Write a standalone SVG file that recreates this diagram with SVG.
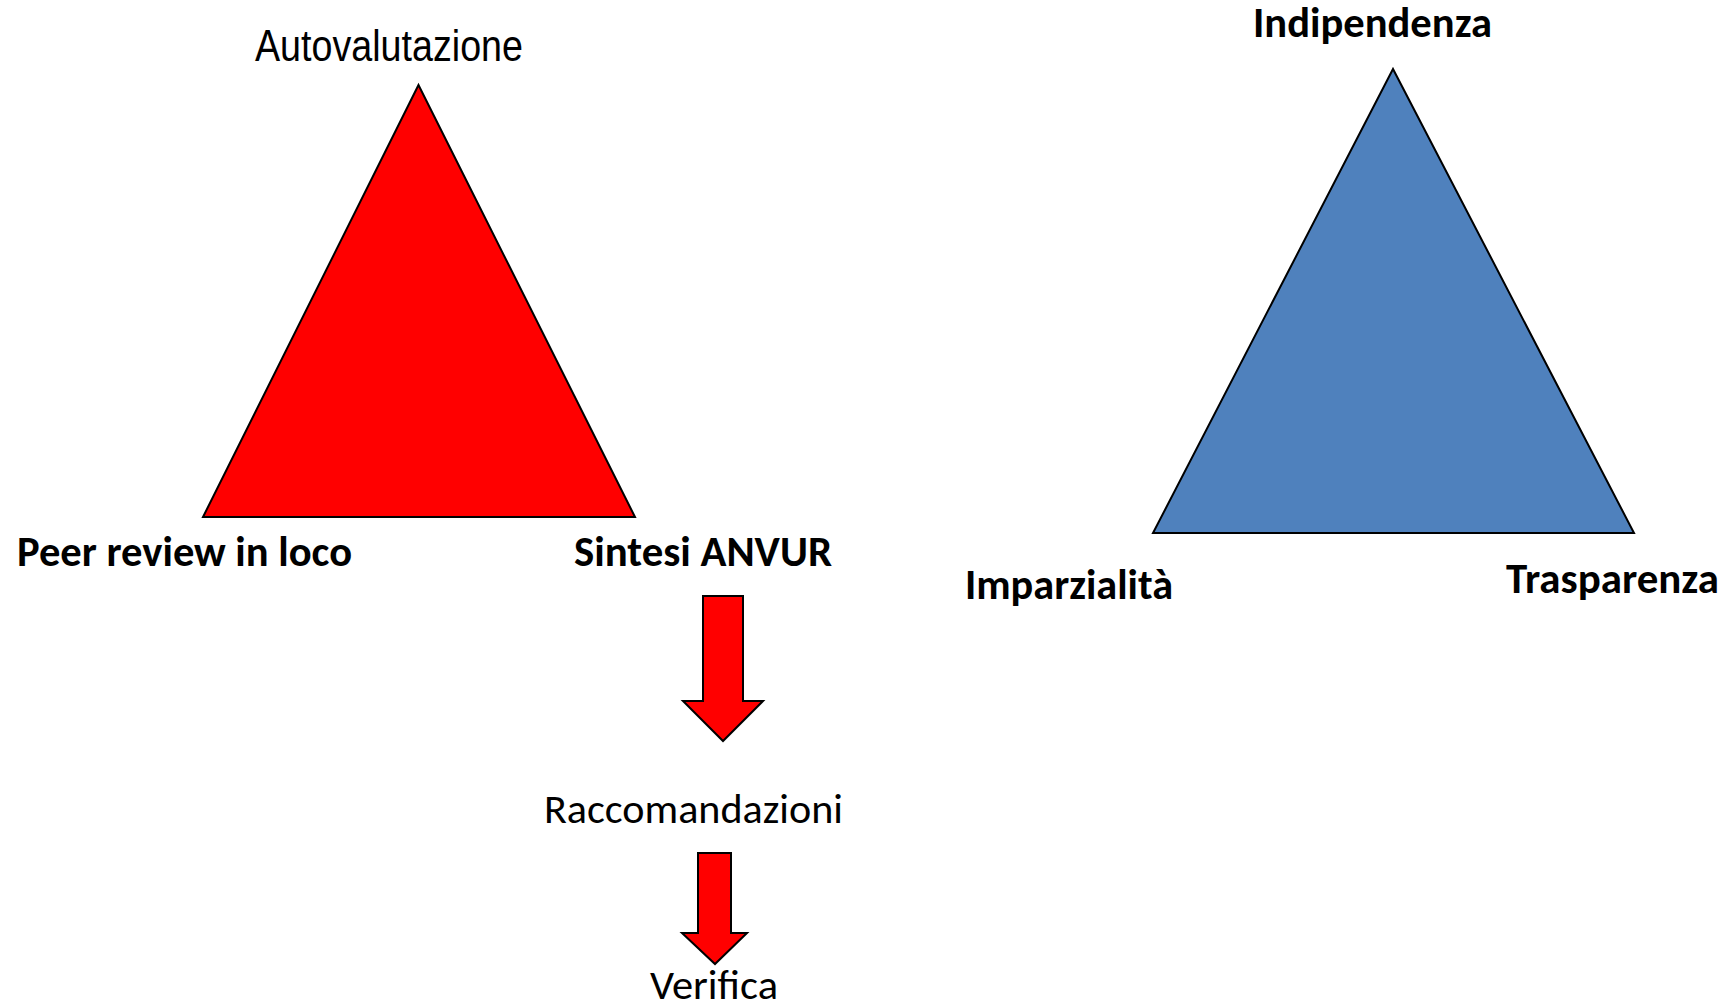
<svg xmlns="http://www.w3.org/2000/svg" width="1736" height="1005" viewBox="0 0 1736 1005">
<style>
.bg{fill:#ffffff}
.shape{stroke:#000000;stroke-width:2;stroke-linejoin:miter}
.red{fill:#ff0000}
.blue{fill:#4f81bd}
.lbl{font-family:"Carlito","Liberation Sans",Arial,sans-serif;font-size:42px;fill:#000000}
.b{font-weight:bold}
.narrow{font-family:"Liberation Sans Narrow","Arial Narrow","Liberation Sans",sans-serif;font-size:44px;fill:#000000}
</style>
<rect class="bg" x="0" y="0" width="1736" height="1005"/>
<g id="red-triangle">
<polygon class="shape red" points="418.5,85 203,517 635,517"/>
</g>
<g id="blue-triangle">
<polygon class="shape blue" points="1393,69 1153,533 1634,533"/>
</g>
<g id="label-autovalutazione">
<text class="narrow" x="255" y="61" textLength="268" lengthAdjust="spacingAndGlyphs">Autovalutazione</text>
</g>
<g id="label-peer">
<text class="lbl b" x="17" y="566" textLength="335" lengthAdjust="spacingAndGlyphs">Peer review in loco</text>
</g>
<g id="label-sintesi">
<text class="lbl b" x="574" y="566" textLength="258" lengthAdjust="spacingAndGlyphs">Sintesi ANVUR</text>
</g>
<g id="label-raccomandazioni">
<text class="lbl" x="544" y="823" textLength="299" lengthAdjust="spacingAndGlyphs">Raccomandazioni</text>
</g>
<g id="label-verifica">
<text class="lbl" x="650" y="999" textLength="128" lengthAdjust="spacingAndGlyphs">Verifica</text>
</g>
<g id="label-indipendenza">
<text class="lbl b" x="1253" y="37" textLength="239" lengthAdjust="spacingAndGlyphs">Indipendenza</text>
</g>
<g id="label-imparzialita">
<text class="lbl b" x="965" y="599" textLength="208" lengthAdjust="spacingAndGlyphs">Imparzialità</text>
</g>
<g id="label-trasparenza">
<text class="lbl b" x="1506" y="593" textLength="213" lengthAdjust="spacingAndGlyphs">Trasparenza</text>
</g>
<g id="connectors">
<polygon class="shape red" points="703,596 743,596 743,701 763,701 723,741 683,701 703,701"/>
<polygon class="shape red" points="698,853 731,853 731,933 747,933 715,964 682,933 698,933"/>
</g>
</svg>
